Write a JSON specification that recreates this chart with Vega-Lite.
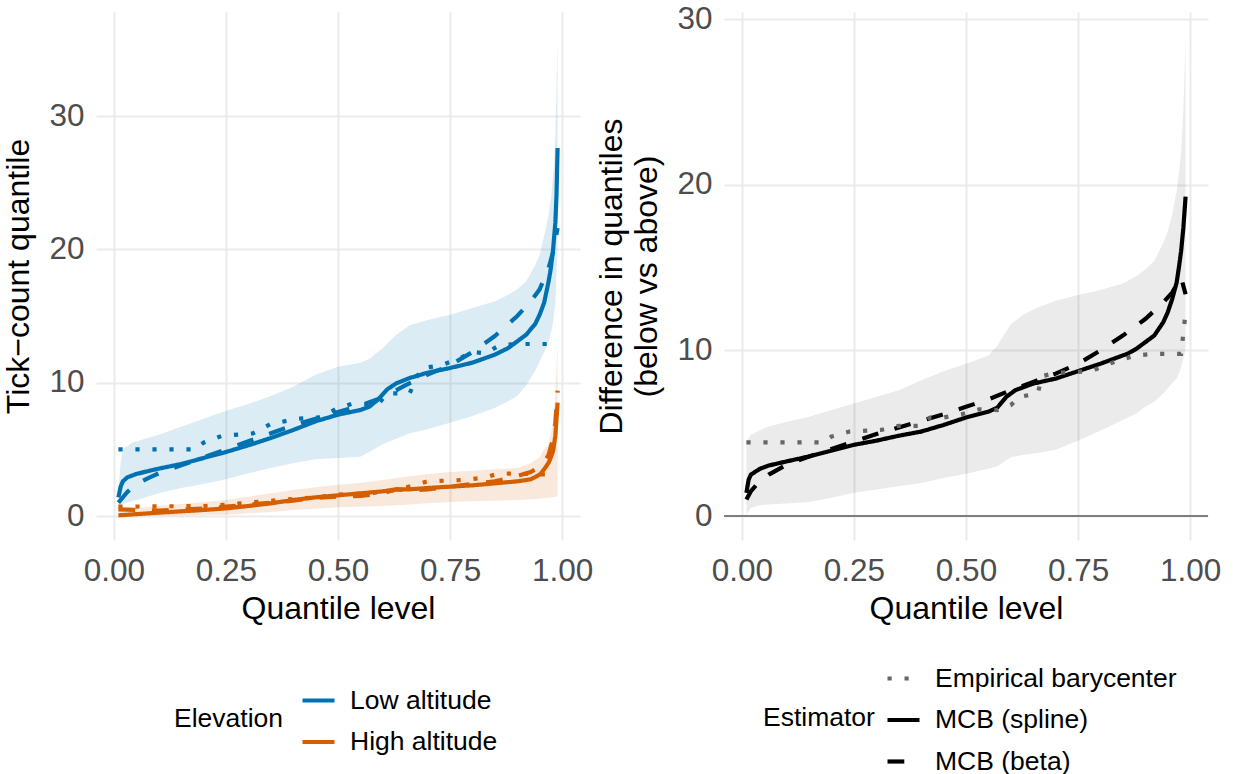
{
"$schema": "https://vega.github.io/schema/vega-lite/v6.json",
"padding": {"left": 2, "top": 3, "right": 0, "bottom": 0},
"autosize": {"type": "pad"},
"background": "white",
"spacing": 2,
"resolve": {"scale": {"color": "independent", "strokeDash": "independent"}, "legend": {"color": "independent", "strokeDash": "independent"}},
"config": {
  "view": {"stroke": null},
  "font": "Liberation Sans",
  "axis": {"domain": false, "ticks": false, "tickSize": 0, "gridColor": "#EBEBEB", "gridWidth": 2, "labelFont": "Liberation Sans", "titleFont": "Liberation Sans", "labelFontSize": 31.5, "labelColor": "#4D4D4D", "titleFontSize": 32, "titleFontWeight": "normal", "titleColor": "#000000"},
  "axisX": {"labelPadding": 15, "titlePadding": 7},
  "axisY": {"labelPadding": 12, "titlePadding": 13, "titleLineHeight": 35},
  "legend": {"orient": "none", "direction": "vertical", "titleOrient": "left", "titleFont": "Liberation Sans", "labelFont": "Liberation Sans", "titleFontSize": 26.5, "labelFontSize": 26.5, "titleFontWeight": "normal", "titleColor": "#000000", "labelColor": "#000000", "symbolType": "stroke", "symbolSize": 1024, "symbolStrokeWidth": 4.2, "labelOffset": 13, "titlePadding": 10, "rowPadding": 9.5, "titleAnchor": "middle", "titleBaseline": "middle", "symbolOpacity": 1, "labelLimit": 500, "titleLimit": 500}
},
"datasets": {
  "leftLines": [
    {"elev":"Low altitude","est":"MCB (spline)","q":0.01,"v":1.4},{"elev":"Low altitude","est":"MCB (spline)","q":0.015,"v":2.2},{"elev":"Low altitude","est":"MCB (spline)","q":0.02,"v":2.6},{"elev":"Low altitude","est":"MCB (spline)","q":0.03,"v":2.9},{"elev":"Low altitude","est":"MCB (spline)","q":0.05,"v":3.15},{"elev":"Low altitude","est":"MCB (spline)","q":0.08,"v":3.4},{"elev":"Low altitude","est":"MCB (spline)","q":0.1,"v":3.55},{"elev":"Low altitude","est":"MCB (spline)","q":0.15,"v":3.9},{"elev":"Low altitude","est":"MCB (spline)","q":0.2,"v":4.35},{"elev":"Low altitude","est":"MCB (spline)","q":0.25,"v":4.8},{"elev":"Low altitude","est":"MCB (spline)","q":0.3,"v":5.3},{"elev":"Low altitude","est":"MCB (spline)","q":0.35,"v":5.85},{"elev":"Low altitude","est":"MCB (spline)","q":0.4,"v":6.45},{"elev":"Low altitude","est":"MCB (spline)","q":0.45,"v":7.1},{"elev":"Low altitude","est":"MCB (spline)","q":0.5,"v":7.6},{"elev":"Low altitude","est":"MCB (spline)","q":0.55,"v":7.95},{"elev":"Low altitude","est":"MCB (spline)","q":0.57,"v":8.2},{"elev":"Low altitude","est":"MCB (spline)","q":0.59,"v":8.75},{"elev":"Low altitude","est":"MCB (spline)","q":0.61,"v":9.5},{"elev":"Low altitude","est":"MCB (spline)","q":0.63,"v":9.95},{"elev":"Low altitude","est":"MCB (spline)","q":0.66,"v":10.35},{"elev":"Low altitude","est":"MCB (spline)","q":0.7,"v":10.75},{"elev":"Low altitude","est":"MCB (spline)","q":0.75,"v":11.1},{"elev":"Low altitude","est":"MCB (spline)","q":0.8,"v":11.5},{"elev":"Low altitude","est":"MCB (spline)","q":0.85,"v":12.1},{"elev":"Low altitude","est":"MCB (spline)","q":0.88,"v":12.6},{"elev":"Low altitude","est":"MCB (spline)","q":0.9,"v":13.1},{"elev":"Low altitude","est":"MCB (spline)","q":0.92,"v":13.6},{"elev":"Low altitude","est":"MCB (spline)","q":0.94,"v":14.4},{"elev":"Low altitude","est":"MCB (spline)","q":0.95,"v":15.1},{"elev":"Low altitude","est":"MCB (spline)","q":0.96,"v":16.0},{"elev":"Low altitude","est":"MCB (spline)","q":0.965,"v":16.8},{"elev":"Low altitude","est":"MCB (spline)","q":0.97,"v":17.6},{"elev":"Low altitude","est":"MCB (spline)","q":0.975,"v":18.6},{"elev":"Low altitude","est":"MCB (spline)","q":0.98,"v":20.0},{"elev":"Low altitude","est":"MCB (spline)","q":0.985,"v":22.0},{"elev":"Low altitude","est":"MCB (spline)","q":0.9875,"v":24.0},{"elev":"Low altitude","est":"MCB (spline)","q":0.99,"v":27.6},
    {"elev":"Low altitude","est":"MCB (beta)","q":0.01,"v":1.0},{"elev":"Low altitude","est":"MCB (beta)","q":0.03,"v":1.8},{"elev":"Low altitude","est":"MCB (beta)","q":0.05,"v":2.4},{"elev":"Low altitude","est":"MCB (beta)","q":0.08,"v":2.9},{"elev":"Low altitude","est":"MCB (beta)","q":0.1,"v":3.2},{"elev":"Low altitude","est":"MCB (beta)","q":0.15,"v":3.8},{"elev":"Low altitude","est":"MCB (beta)","q":0.2,"v":4.4},{"elev":"Low altitude","est":"MCB (beta)","q":0.25,"v":5.0},{"elev":"Low altitude","est":"MCB (beta)","q":0.3,"v":5.6},{"elev":"Low altitude","est":"MCB (beta)","q":0.35,"v":6.2},{"elev":"Low altitude","est":"MCB (beta)","q":0.4,"v":6.8},{"elev":"Low altitude","est":"MCB (beta)","q":0.45,"v":7.3},{"elev":"Low altitude","est":"MCB (beta)","q":0.5,"v":7.8},{"elev":"Low altitude","est":"MCB (beta)","q":0.55,"v":8.3},{"elev":"Low altitude","est":"MCB (beta)","q":0.6,"v":8.9},{"elev":"Low altitude","est":"MCB (beta)","q":0.65,"v":9.8},{"elev":"Low altitude","est":"MCB (beta)","q":0.7,"v":10.6},{"elev":"Low altitude","est":"MCB (beta)","q":0.75,"v":11.3},{"elev":"Low altitude","est":"MCB (beta)","q":0.8,"v":12.3},{"elev":"Low altitude","est":"MCB (beta)","q":0.85,"v":13.5},{"elev":"Low altitude","est":"MCB (beta)","q":0.9,"v":15.0},{"elev":"Low altitude","est":"MCB (beta)","q":0.93,"v":16.1},{"elev":"Low altitude","est":"MCB (beta)","q":0.95,"v":17.0},{"elev":"Low altitude","est":"MCB (beta)","q":0.97,"v":18.6},{"elev":"Low altitude","est":"MCB (beta)","q":0.98,"v":19.8},{"elev":"Low altitude","est":"MCB (beta)","q":0.99,"v":21.6},
    {"elev":"Low altitude","est":"Empirical barycenter","q":0.01,"v":5.0},{"elev":"Low altitude","est":"Empirical barycenter","q":0.18,"v":5.0},{"elev":"Low altitude","est":"Empirical barycenter","q":0.2,"v":5.5},{"elev":"Low altitude","est":"Empirical barycenter","q":0.24,"v":6.0},{"elev":"Low altitude","est":"Empirical barycenter","q":0.31,"v":6.2},{"elev":"Low altitude","est":"Empirical barycenter","q":0.35,"v":6.9},{"elev":"Low altitude","est":"Empirical barycenter","q":0.41,"v":7.3},{"elev":"Low altitude","est":"Empirical barycenter","q":0.46,"v":7.4},{"elev":"Low altitude","est":"Empirical barycenter","q":0.5,"v":8.1},{"elev":"Low altitude","est":"Empirical barycenter","q":0.53,"v":8.4},{"elev":"Low altitude","est":"Empirical barycenter","q":0.59,"v":8.4},{"elev":"Low altitude","est":"Empirical barycenter","q":0.61,"v":9.2},{"elev":"Low altitude","est":"Empirical barycenter","q":0.66,"v":9.2},{"elev":"Low altitude","est":"Empirical barycenter","q":0.675,"v":10.4},{"elev":"Low altitude","est":"Empirical barycenter","q":0.69,"v":11.1},{"elev":"Low altitude","est":"Empirical barycenter","q":0.73,"v":11.3},{"elev":"Low altitude","est":"Empirical barycenter","q":0.77,"v":11.8},{"elev":"Low altitude","est":"Empirical barycenter","q":0.8,"v":12.3},{"elev":"Low altitude","est":"Empirical barycenter","q":0.83,"v":12.2},{"elev":"Low altitude","est":"Empirical barycenter","q":0.86,"v":12.8},{"elev":"Low altitude","est":"Empirical barycenter","q":0.9,"v":12.9},{"elev":"Low altitude","est":"Empirical barycenter","q":0.99,"v":12.9},
    {"elev":"High altitude","est":"MCB (spline)","q":0.01,"v":0.05},{"elev":"High altitude","est":"MCB (spline)","q":0.1,"v":0.25},{"elev":"High altitude","est":"MCB (spline)","q":0.2,"v":0.45},{"elev":"High altitude","est":"MCB (spline)","q":0.25,"v":0.57},{"elev":"High altitude","est":"MCB (spline)","q":0.3,"v":0.75},{"elev":"High altitude","est":"MCB (spline)","q":0.35,"v":0.95},{"elev":"High altitude","est":"MCB (spline)","q":0.4,"v":1.2},{"elev":"High altitude","est":"MCB (spline)","q":0.45,"v":1.4},{"elev":"High altitude","est":"MCB (spline)","q":0.5,"v":1.55},{"elev":"High altitude","est":"MCB (spline)","q":0.55,"v":1.7},{"elev":"High altitude","est":"MCB (spline)","q":0.6,"v":1.85},{"elev":"High altitude","est":"MCB (spline)","q":0.63,"v":2.0},{"elev":"High altitude","est":"MCB (spline)","q":0.66,"v":2.0},{"elev":"High altitude","est":"MCB (spline)","q":0.7,"v":2.1},{"elev":"High altitude","est":"MCB (spline)","q":0.75,"v":2.2},{"elev":"High altitude","est":"MCB (spline)","q":0.8,"v":2.3},{"elev":"High altitude","est":"MCB (spline)","q":0.85,"v":2.45},{"elev":"High altitude","est":"MCB (spline)","q":0.9,"v":2.6},{"elev":"High altitude","est":"MCB (spline)","q":0.93,"v":2.75},{"elev":"High altitude","est":"MCB (spline)","q":0.95,"v":3.1},{"elev":"High altitude","est":"MCB (spline)","q":0.96,"v":3.5},{"elev":"High altitude","est":"MCB (spline)","q":0.97,"v":4.0},{"elev":"High altitude","est":"MCB (spline)","q":0.975,"v":4.4},{"elev":"High altitude","est":"MCB (spline)","q":0.98,"v":4.9},{"elev":"High altitude","est":"MCB (spline)","q":0.985,"v":6.0},{"elev":"High altitude","est":"MCB (spline)","q":0.99,"v":8.5},
    {"elev":"High altitude","est":"MCB (beta)","q":0.01,"v":0.5},{"elev":"High altitude","est":"MCB (beta)","q":0.1,"v":0.4},{"elev":"High altitude","est":"MCB (beta)","q":0.2,"v":0.55},{"elev":"High altitude","est":"MCB (beta)","q":0.25,"v":0.7},{"elev":"High altitude","est":"MCB (beta)","q":0.3,"v":0.85},{"elev":"High altitude","est":"MCB (beta)","q":0.35,"v":1.0},{"elev":"High altitude","est":"MCB (beta)","q":0.4,"v":1.15},{"elev":"High altitude","est":"MCB (beta)","q":0.45,"v":1.35},{"elev":"High altitude","est":"MCB (beta)","q":0.5,"v":1.45},{"elev":"High altitude","est":"MCB (beta)","q":0.55,"v":1.5},{"elev":"High altitude","est":"MCB (beta)","q":0.6,"v":1.7},{"elev":"High altitude","est":"MCB (beta)","q":0.63,"v":2.0},{"elev":"High altitude","est":"MCB (beta)","q":0.66,"v":1.9},{"elev":"High altitude","est":"MCB (beta)","q":0.7,"v":2.0},{"elev":"High altitude","est":"MCB (beta)","q":0.75,"v":2.2},{"elev":"High altitude","est":"MCB (beta)","q":0.8,"v":2.4},{"elev":"High altitude","est":"MCB (beta)","q":0.85,"v":2.6},{"elev":"High altitude","est":"MCB (beta)","q":0.9,"v":3.0},{"elev":"High altitude","est":"MCB (beta)","q":0.93,"v":3.3},{"elev":"High altitude","est":"MCB (beta)","q":0.95,"v":3.7},{"elev":"High altitude","est":"MCB (beta)","q":0.96,"v":4.0},{"elev":"High altitude","est":"MCB (beta)","q":0.97,"v":4.6},{"elev":"High altitude","est":"MCB (beta)","q":0.98,"v":5.8},{"elev":"High altitude","est":"MCB (beta)","q":0.985,"v":7.0},{"elev":"High altitude","est":"MCB (beta)","q":0.99,"v":9.4},
    {"elev":"High altitude","est":"Empirical barycenter","q":0.01,"v":0.7},{"elev":"High altitude","est":"Empirical barycenter","q":0.2,"v":0.75},{"elev":"High altitude","est":"Empirical barycenter","q":0.25,"v":0.85},{"elev":"High altitude","est":"Empirical barycenter","q":0.3,"v":1.0},{"elev":"High altitude","est":"Empirical barycenter","q":0.37,"v":1.2},{"elev":"High altitude","est":"Empirical barycenter","q":0.45,"v":1.4},{"elev":"High altitude","est":"Empirical barycenter","q":0.5,"v":1.6},{"elev":"High altitude","est":"Empirical barycenter","q":0.57,"v":1.7},{"elev":"High altitude","est":"Empirical barycenter","q":0.62,"v":1.9},{"elev":"High altitude","est":"Empirical barycenter","q":0.67,"v":2.3},{"elev":"High altitude","est":"Empirical barycenter","q":0.7,"v":2.6},{"elev":"High altitude","est":"Empirical barycenter","q":0.78,"v":2.7},{"elev":"High altitude","est":"Empirical barycenter","q":0.83,"v":2.9},{"elev":"High altitude","est":"Empirical barycenter","q":0.86,"v":3.2},{"elev":"High altitude","est":"Empirical barycenter","q":0.99,"v":3.1}
  ],
  "leftBands": [
    {"elev":"Low altitude","q":0.01,"lo":0.7,"hi":2.0},{"elev":"Low altitude","q":0.015,"lo":0.8,"hi":4.0},{"elev":"Low altitude","q":0.02,"lo":0.9,"hi":5.0},{"elev":"Low altitude","q":0.04,"lo":1.1,"hi":5.5},{"elev":"Low altitude","q":0.06,"lo":1.3,"hi":5.7},{"elev":"Low altitude","q":0.1,"lo":1.7,"hi":6.1},{"elev":"Low altitude","q":0.15,"lo":2.1,"hi":6.7},{"elev":"Low altitude","q":0.2,"lo":2.4,"hi":7.3},{"elev":"Low altitude","q":0.25,"lo":2.75,"hi":7.9},{"elev":"Low altitude","q":0.3,"lo":3.2,"hi":8.4},{"elev":"Low altitude","q":0.35,"lo":3.6,"hi":9.0},{"elev":"Low altitude","q":0.4,"lo":3.95,"hi":9.7},{"elev":"Low altitude","q":0.45,"lo":4.25,"hi":10.6},{"elev":"Low altitude","q":0.5,"lo":4.35,"hi":11.2},{"elev":"Low altitude","q":0.55,"lo":4.45,"hi":11.5},{"elev":"Low altitude","q":0.57,"lo":4.8,"hi":11.8},{"elev":"Low altitude","q":0.6,"lo":5.4,"hi":12.6},{"elev":"Low altitude","q":0.63,"lo":5.8,"hi":13.6},{"elev":"Low altitude","q":0.66,"lo":6.2,"hi":14.3},{"elev":"Low altitude","q":0.7,"lo":6.5,"hi":14.7},{"elev":"Low altitude","q":0.75,"lo":7.0,"hi":15.1},{"elev":"Low altitude","q":0.8,"lo":7.5,"hi":15.6},{"elev":"Low altitude","q":0.85,"lo":8.1,"hi":16.1},{"elev":"Low altitude","q":0.88,"lo":8.6,"hi":16.6},{"elev":"Low altitude","q":0.9,"lo":9.0,"hi":17.0},{"elev":"Low altitude","q":0.92,"lo":9.8,"hi":17.6},{"elev":"Low altitude","q":0.94,"lo":10.9,"hi":18.8},{"elev":"Low altitude","q":0.95,"lo":11.6,"hi":19.6},{"elev":"Low altitude","q":0.96,"lo":12.3,"hi":21.0},{"elev":"Low altitude","q":0.97,"lo":13.1,"hi":22.6},{"elev":"Low altitude","q":0.975,"lo":13.7,"hi":23.8},{"elev":"Low altitude","q":0.98,"lo":14.5,"hi":25.5},{"elev":"Low altitude","q":0.985,"lo":16.0,"hi":28.5},{"elev":"Low altitude","q":0.99,"lo":20.0,"hi":35.8},
    {"elev":"High altitude","q":0.01,"lo":0.0,"hi":0.45},{"elev":"High altitude","q":0.1,"lo":0.0,"hi":0.75},{"elev":"High altitude","q":0.2,"lo":0.05,"hi":1.05},{"elev":"High altitude","q":0.25,"lo":0.1,"hi":1.2},{"elev":"High altitude","q":0.3,"lo":0.2,"hi":1.45},{"elev":"High altitude","q":0.35,"lo":0.3,"hi":1.7},{"elev":"High altitude","q":0.4,"lo":0.45,"hi":1.95},{"elev":"High altitude","q":0.45,"lo":0.55,"hi":2.15},{"elev":"High altitude","q":0.5,"lo":0.65,"hi":2.35},{"elev":"High altitude","q":0.55,"lo":0.7,"hi":2.5},{"elev":"High altitude","q":0.6,"lo":0.75,"hi":2.7},{"elev":"High altitude","q":0.65,"lo":0.85,"hi":2.95},{"elev":"High altitude","q":0.7,"lo":0.95,"hi":3.15},{"elev":"High altitude","q":0.75,"lo":1.05,"hi":3.3},{"elev":"High altitude","q":0.8,"lo":1.1,"hi":3.4},{"elev":"High altitude","q":0.85,"lo":1.15,"hi":3.5},{"elev":"High altitude","q":0.9,"lo":1.2,"hi":3.6},{"elev":"High altitude","q":0.93,"lo":1.25,"hi":3.95},{"elev":"High altitude","q":0.95,"lo":1.3,"hi":4.4},{"elev":"High altitude","q":0.96,"lo":1.35,"hi":5.0},{"elev":"High altitude","q":0.97,"lo":1.35,"hi":5.4},{"elev":"High altitude","q":0.975,"lo":1.4,"hi":6.2},{"elev":"High altitude","q":0.98,"lo":1.4,"hi":7.2},{"elev":"High altitude","q":0.985,"lo":1.45,"hi":8.9},{"elev":"High altitude","q":0.99,"lo":1.5,"hi":13.0}
  ],
  "rightLines": [
    {"est":"MCB (spline)","q":0.01,"v":1.4},{"est":"MCB (spline)","q":0.015,"v":2.2},{"est":"MCB (spline)","q":0.02,"v":2.5},{"est":"MCB (spline)","q":0.04,"v":2.85},{"est":"MCB (spline)","q":0.06,"v":3.05},{"est":"MCB (spline)","q":0.1,"v":3.3},{"est":"MCB (spline)","q":0.15,"v":3.6},{"est":"MCB (spline)","q":0.2,"v":3.95},{"est":"MCB (spline)","q":0.25,"v":4.3},{"est":"MCB (spline)","q":0.3,"v":4.55},{"est":"MCB (spline)","q":0.35,"v":4.85},{"est":"MCB (spline)","q":0.4,"v":5.1},{"est":"MCB (spline)","q":0.45,"v":5.5},{"est":"MCB (spline)","q":0.5,"v":5.95},{"est":"MCB (spline)","q":0.55,"v":6.3},{"est":"MCB (spline)","q":0.57,"v":6.55},{"est":"MCB (spline)","q":0.59,"v":7.2},{"est":"MCB (spline)","q":0.61,"v":7.6},{"est":"MCB (spline)","q":0.65,"v":8.0},{"est":"MCB (spline)","q":0.7,"v":8.3},{"est":"MCB (spline)","q":0.75,"v":8.75},{"est":"MCB (spline)","q":0.8,"v":9.2},{"est":"MCB (spline)","q":0.83,"v":9.5},{"est":"MCB (spline)","q":0.86,"v":9.8},{"est":"MCB (spline)","q":0.88,"v":10.1},{"est":"MCB (spline)","q":0.9,"v":10.5},{"est":"MCB (spline)","q":0.92,"v":10.9},{"est":"MCB (spline)","q":0.94,"v":11.7},{"est":"MCB (spline)","q":0.95,"v":12.3},{"est":"MCB (spline)","q":0.96,"v":13.1},{"est":"MCB (spline)","q":0.97,"v":14.1},{"est":"MCB (spline)","q":0.975,"v":15.0},{"est":"MCB (spline)","q":0.98,"v":16.0},{"est":"MCB (spline)","q":0.985,"v":17.4},{"est":"MCB (spline)","q":0.99,"v":19.3},
    {"est":"MCB (beta)","q":0.01,"v":1.0},{"est":"MCB (beta)","q":0.02,"v":1.5},{"est":"MCB (beta)","q":0.04,"v":2.1},{"est":"MCB (beta)","q":0.06,"v":2.5},{"est":"MCB (beta)","q":0.1,"v":3.1},{"est":"MCB (beta)","q":0.15,"v":3.6},{"est":"MCB (beta)","q":0.2,"v":4.05},{"est":"MCB (beta)","q":0.25,"v":4.5},{"est":"MCB (beta)","q":0.3,"v":4.95},{"est":"MCB (beta)","q":0.35,"v":5.35},{"est":"MCB (beta)","q":0.4,"v":5.75},{"est":"MCB (beta)","q":0.45,"v":6.15},{"est":"MCB (beta)","q":0.5,"v":6.6},{"est":"MCB (beta)","q":0.55,"v":7.05},{"est":"MCB (beta)","q":0.6,"v":7.6},{"est":"MCB (beta)","q":0.65,"v":8.1},{"est":"MCB (beta)","q":0.7,"v":8.6},{"est":"MCB (beta)","q":0.75,"v":9.2},{"est":"MCB (beta)","q":0.8,"v":10.0},{"est":"MCB (beta)","q":0.85,"v":10.9},{"est":"MCB (beta)","q":0.9,"v":11.9},{"est":"MCB (beta)","q":0.94,"v":12.9},{"est":"MCB (beta)","q":0.96,"v":13.5},{"est":"MCB (beta)","q":0.975,"v":14.2},{"est":"MCB (beta)","q":0.98,"v":14.4},{"est":"MCB (beta)","q":0.99,"v":13.4},
    {"est":"Empirical barycenter","q":0.01,"v":4.45},{"est":"Empirical barycenter","q":0.18,"v":4.45},{"est":"Empirical barycenter","q":0.2,"v":4.8},{"est":"Empirical barycenter","q":0.24,"v":5.1},{"est":"Empirical barycenter","q":0.31,"v":5.2},{"est":"Empirical barycenter","q":0.35,"v":5.45},{"est":"Empirical barycenter","q":0.4,"v":5.45},{"est":"Empirical barycenter","q":0.42,"v":5.95},{"est":"Empirical barycenter","q":0.45,"v":5.95},{"est":"Empirical barycenter","q":0.49,"v":6.15},{"est":"Empirical barycenter","q":0.53,"v":6.45},{"est":"Empirical barycenter","q":0.57,"v":6.4},{"est":"Empirical barycenter","q":0.6,"v":6.7},{"est":"Empirical barycenter","q":0.62,"v":7.2},{"est":"Empirical barycenter","q":0.66,"v":7.4},{"est":"Empirical barycenter","q":0.67,"v":8.45},{"est":"Empirical barycenter","q":0.7,"v":8.65},{"est":"Empirical barycenter","q":0.78,"v":8.75},{"est":"Empirical barycenter","q":0.81,"v":9.1},{"est":"Empirical barycenter","q":0.84,"v":9.4},{"est":"Empirical barycenter","q":0.88,"v":9.7},{"est":"Empirical barycenter","q":0.92,"v":9.8},{"est":"Empirical barycenter","q":0.98,"v":9.8},{"est":"Empirical barycenter","q":0.99,"v":12.3}
  ],
  "rightBand": [
    {"q":0.01,"lo":0.05,"hi":4.5},{"q":0.02,"lo":0.5,"hi":4.9},{"q":0.04,"lo":0.65,"hi":5.2},{"q":0.06,"lo":0.7,"hi":5.4},{"q":0.1,"lo":0.75,"hi":5.7},{"q":0.15,"lo":0.85,"hi":6.0},{"q":0.2,"lo":1.1,"hi":6.4},{"q":0.25,"lo":1.4,"hi":6.8},{"q":0.3,"lo":1.6,"hi":7.2},{"q":0.35,"lo":1.8,"hi":7.6},{"q":0.4,"lo":2.0,"hi":8.2},{"q":0.45,"lo":2.3,"hi":8.75},{"q":0.5,"lo":2.55,"hi":9.2},{"q":0.55,"lo":2.85,"hi":9.7},{"q":0.57,"lo":3.0,"hi":10.3},{"q":0.6,"lo":3.55,"hi":11.6},{"q":0.63,"lo":3.7,"hi":12.2},{"q":0.66,"lo":3.8,"hi":12.6},{"q":0.7,"lo":4.0,"hi":13.0},{"q":0.75,"lo":4.55,"hi":13.35},{"q":0.8,"lo":5.15,"hi":13.65},{"q":0.85,"lo":5.8,"hi":14.05},{"q":0.88,"lo":6.2,"hi":14.5},{"q":0.9,"lo":6.6,"hi":14.9},{"q":0.92,"lo":6.9,"hi":15.4},{"q":0.94,"lo":7.4,"hi":16.5},{"q":0.95,"lo":7.7,"hi":17.2},{"q":0.96,"lo":8.0,"hi":18.2},{"q":0.97,"lo":8.3,"hi":19.6},{"q":0.975,"lo":8.6,"hi":20.7},{"q":0.98,"lo":9.0,"hi":22.0},{"q":0.985,"lo":9.5,"hi":24.5},{"q":0.99,"lo":10.1,"hi":29.0}
  ],
  "zero": [{"y": 0}]
},
"hconcat": [
  {
    "width": 484, "height": 528,
    "layer": [
      {
        "data": {"name": "leftBands"},
        "transform": [{"filter": "datum.elev === 'Low altitude'"}],
        "mark": {"type": "area", "color": "#0072B2", "opacity": 0.137},
        "encoding": {
          "x": {"field": "q", "type": "quantitative", "scale": {"domain": [-0.04, 1.04], "nice": false, "zero": false}, "axis": {"values": [0, 0.25, 0.5, 0.75, 1], "format": ".2f", "title": "Quantile level"}},
          "y": {"field": "lo", "type": "quantitative", "scale": {"domain": [-1.8, 37.8], "nice": false, "zero": false}, "axis": {"values": [0, 10, 20, 30], "title": "Tick−count quantile"}},
          "y2": {"field": "hi"}
        }
      },
      {
        "data": {"name": "leftBands"},
        "transform": [{"filter": "datum.elev === 'High altitude'"}],
        "mark": {"type": "area", "color": "#D55E00", "opacity": 0.137},
        "encoding": {
          "x": {"field": "q", "type": "quantitative", "axis": null},
          "y": {"field": "lo", "type": "quantitative", "axis": null},
          "y2": {"field": "hi"}
        }
      },
      {
        "data": {"name": "leftLines"},
        "mark": {"type": "line", "strokeWidth": 4.2},
        "encoding": {
          "x": {"field": "q", "type": "quantitative", "axis": {"orient": "top", "values": [0.125, 0.375, 0.625, 0.875], "labels": false, "title": null, "gridWidth": 1}},
          "y": {"field": "v", "type": "quantitative", "axis": {"orient": "right", "values": [5, 15, 25, 35], "labels": false, "title": null, "gridWidth": 1}},
          "color": {"field": "elev", "type": "nominal", "scale": {"domain": ["Low altitude", "High altitude"], "range": ["#0072B2", "#D55E00"]}, "legend": {"title": "Elevation", "legendX": 78, "legendY": 670, "titlePadding": 16}},
          "strokeDash": {"field": "est", "type": "nominal", "scale": {"domain": ["Empirical barycenter", "MCB (spline)", "MCB (beta)"], "range": [[4.2, 12.8], [1, 0], [16.8, 16.8]]}, "legend": null}
        }
      }
    ],
    "resolve": {"axis": {"x": "independent", "y": "independent"}}
  },
  {
    "width": 484, "height": 528,
    "layer": [
      {
        "data": {"name": "rightBand"},
        "mark": {"type": "area", "color": "#000000", "opacity": 0.08},
        "encoding": {
          "x": {"field": "q", "type": "quantitative", "scale": {"domain": [-0.04, 1.04], "nice": false, "zero": false}, "axis": {"values": [0, 0.25, 0.5, 0.75, 1], "format": ".2f", "title": "Quantile level"}},
          "y": {"field": "lo", "type": "quantitative", "scale": {"domain": [-1.45, 30.45], "nice": false, "zero": false}, "axis": {"values": [0, 10, 20, 30], "title": ["Difference in quantiles", "(below vs above)"]}},
          "y2": {"field": "hi"}
        }
      },
      {
        "data": {"name": "zero"},
        "mark": {"type": "rule", "color": "#7F7F7F", "strokeWidth": 2},
        "encoding": {"y": {"field": "y", "type": "quantitative", "axis": null}}
      },
      {
        "data": {"name": "rightLines"},
        "mark": {"type": "line", "strokeWidth": 4.2},
        "encoding": {
          "x": {"field": "q", "type": "quantitative", "axis": {"orient": "top", "values": [0.125, 0.375, 0.625, 0.875], "labels": false, "title": null, "gridWidth": 1}},
          "y": {"field": "v", "type": "quantitative", "axis": {"orient": "right", "values": [5, 15, 25], "labels": false, "title": null, "gridWidth": 1}},
          "color": {"field": "est", "type": "nominal", "scale": {"domain": ["Empirical barycenter", "MCB (spline)", "MCB (beta)"], "range": ["#666666", "#000000", "#000000"]}, "legend": {"title": "Estimator", "legendX": 39, "legendY": 648}},
          "strokeDash": {"field": "est", "type": "nominal", "scale": {"domain": ["Empirical barycenter", "MCB (spline)", "MCB (beta)"], "range": [[4.2, 12.8], [1, 0], [16.8, 16.8]]}, "legend": {"title": "Estimator", "legendX": 39, "legendY": 648}}
        }
      }
    ],
    "resolve": {"axis": {"x": "independent", "y": "independent"}}
  }
]
}
